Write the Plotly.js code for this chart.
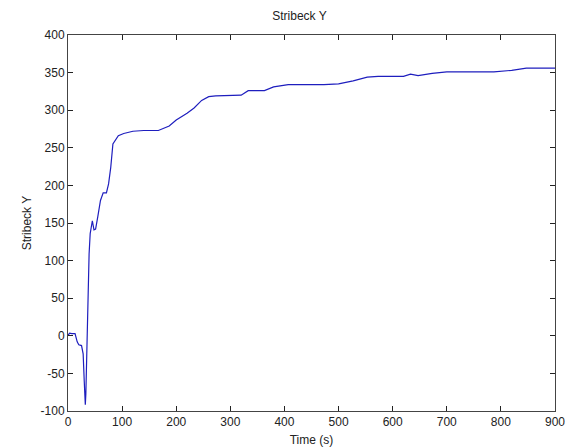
<!DOCTYPE html>
<html>
<head>
<meta charset="utf-8">
<script src="https://cdn.plot.ly/plotly-3.0.1.min.js"></script>
<style>html,body{margin:0;padding:0;background:#fff;}#chart{width:565px;height:448px;}</style>
</head>
<body>
<div id="chart"></div>
<script>
const timeS = [0,3,7,13,17,20,25,28,30,32,33,35,37,39,41,45,48,51,55,60,65,71,75,79,83,87,93,103,120,140,167,187,200,220,233,247,260,273,320,333,340,363,380,407,473,500,527,553,573,620,633,647,673,700,787,820,847,900];
const stribeckY = [0.6,3.5,3,3,-8,-12,-13,-24,-60,-91.6,-77,-13,73,109,136,153,141,142,158,180,190,190,202,224,255,260,266,269,272,273,273,279,287,296,303,313,318,319,320,326,326,326,331,334,334,335,339,344,345,345,348,346,349,351,351,353,356,356];
const xTicks = [0,100,200,300,400,500,600,700,800,900];
const yTicks = [-100,-50,0,50,100,150,200,250,300,350,400];

const fnt = {family: 'Liberation Sans, Arial, sans-serif', size: 12, color: '#222'};
Plotly.newPlot('chart', [{
  x: timeS, y: stribeckY, type: 'scatter', mode: 'lines',
  line: {color: 'rgb(30,30,190)', width: 1.2}
}], {
  width: 565, height: 448,
  margin: {l: 68, r: 10, t: 35, b: 37},
  paper_bgcolor: '#fff', plot_bgcolor: '#fff',
  showlegend: false,
  font: fnt,
  title: {text: 'Stribeck Y', x: 0.53, xanchor: 'center', y: 0.973, yanchor: 'top', font: fnt},
  xaxis: {
    range: [-0.001, 900.001], tickvals: xTicks, ticktext: xTicks.map(String),
    ticklabeloverflow: 'allow',
    ticks: 'inside', ticklen: 5, tickcolor: '#222', showline: true, linecolor: '#444', linewidth: 1,
    mirror: 'allticks', showgrid: false, zeroline: false, tickfont: fnt,
    title: {text: 'Time (s)', font: fnt, standoff: 7}
  },
  yaxis: {
    range: [-100.001, 400.001], tickvals: yTicks, ticktext: yTicks.map(String),
    ticks: 'inside', ticklen: 5, tickcolor: '#222', showline: true, linecolor: '#444', linewidth: 1,
    mirror: 'allticks', showgrid: false, zeroline: false, tickfont: fnt,
    title: {text: 'Stribeck Y', font: fnt, standoff: 6}
  }
}, {staticPlot: true});
</script>
</body>
</html>
